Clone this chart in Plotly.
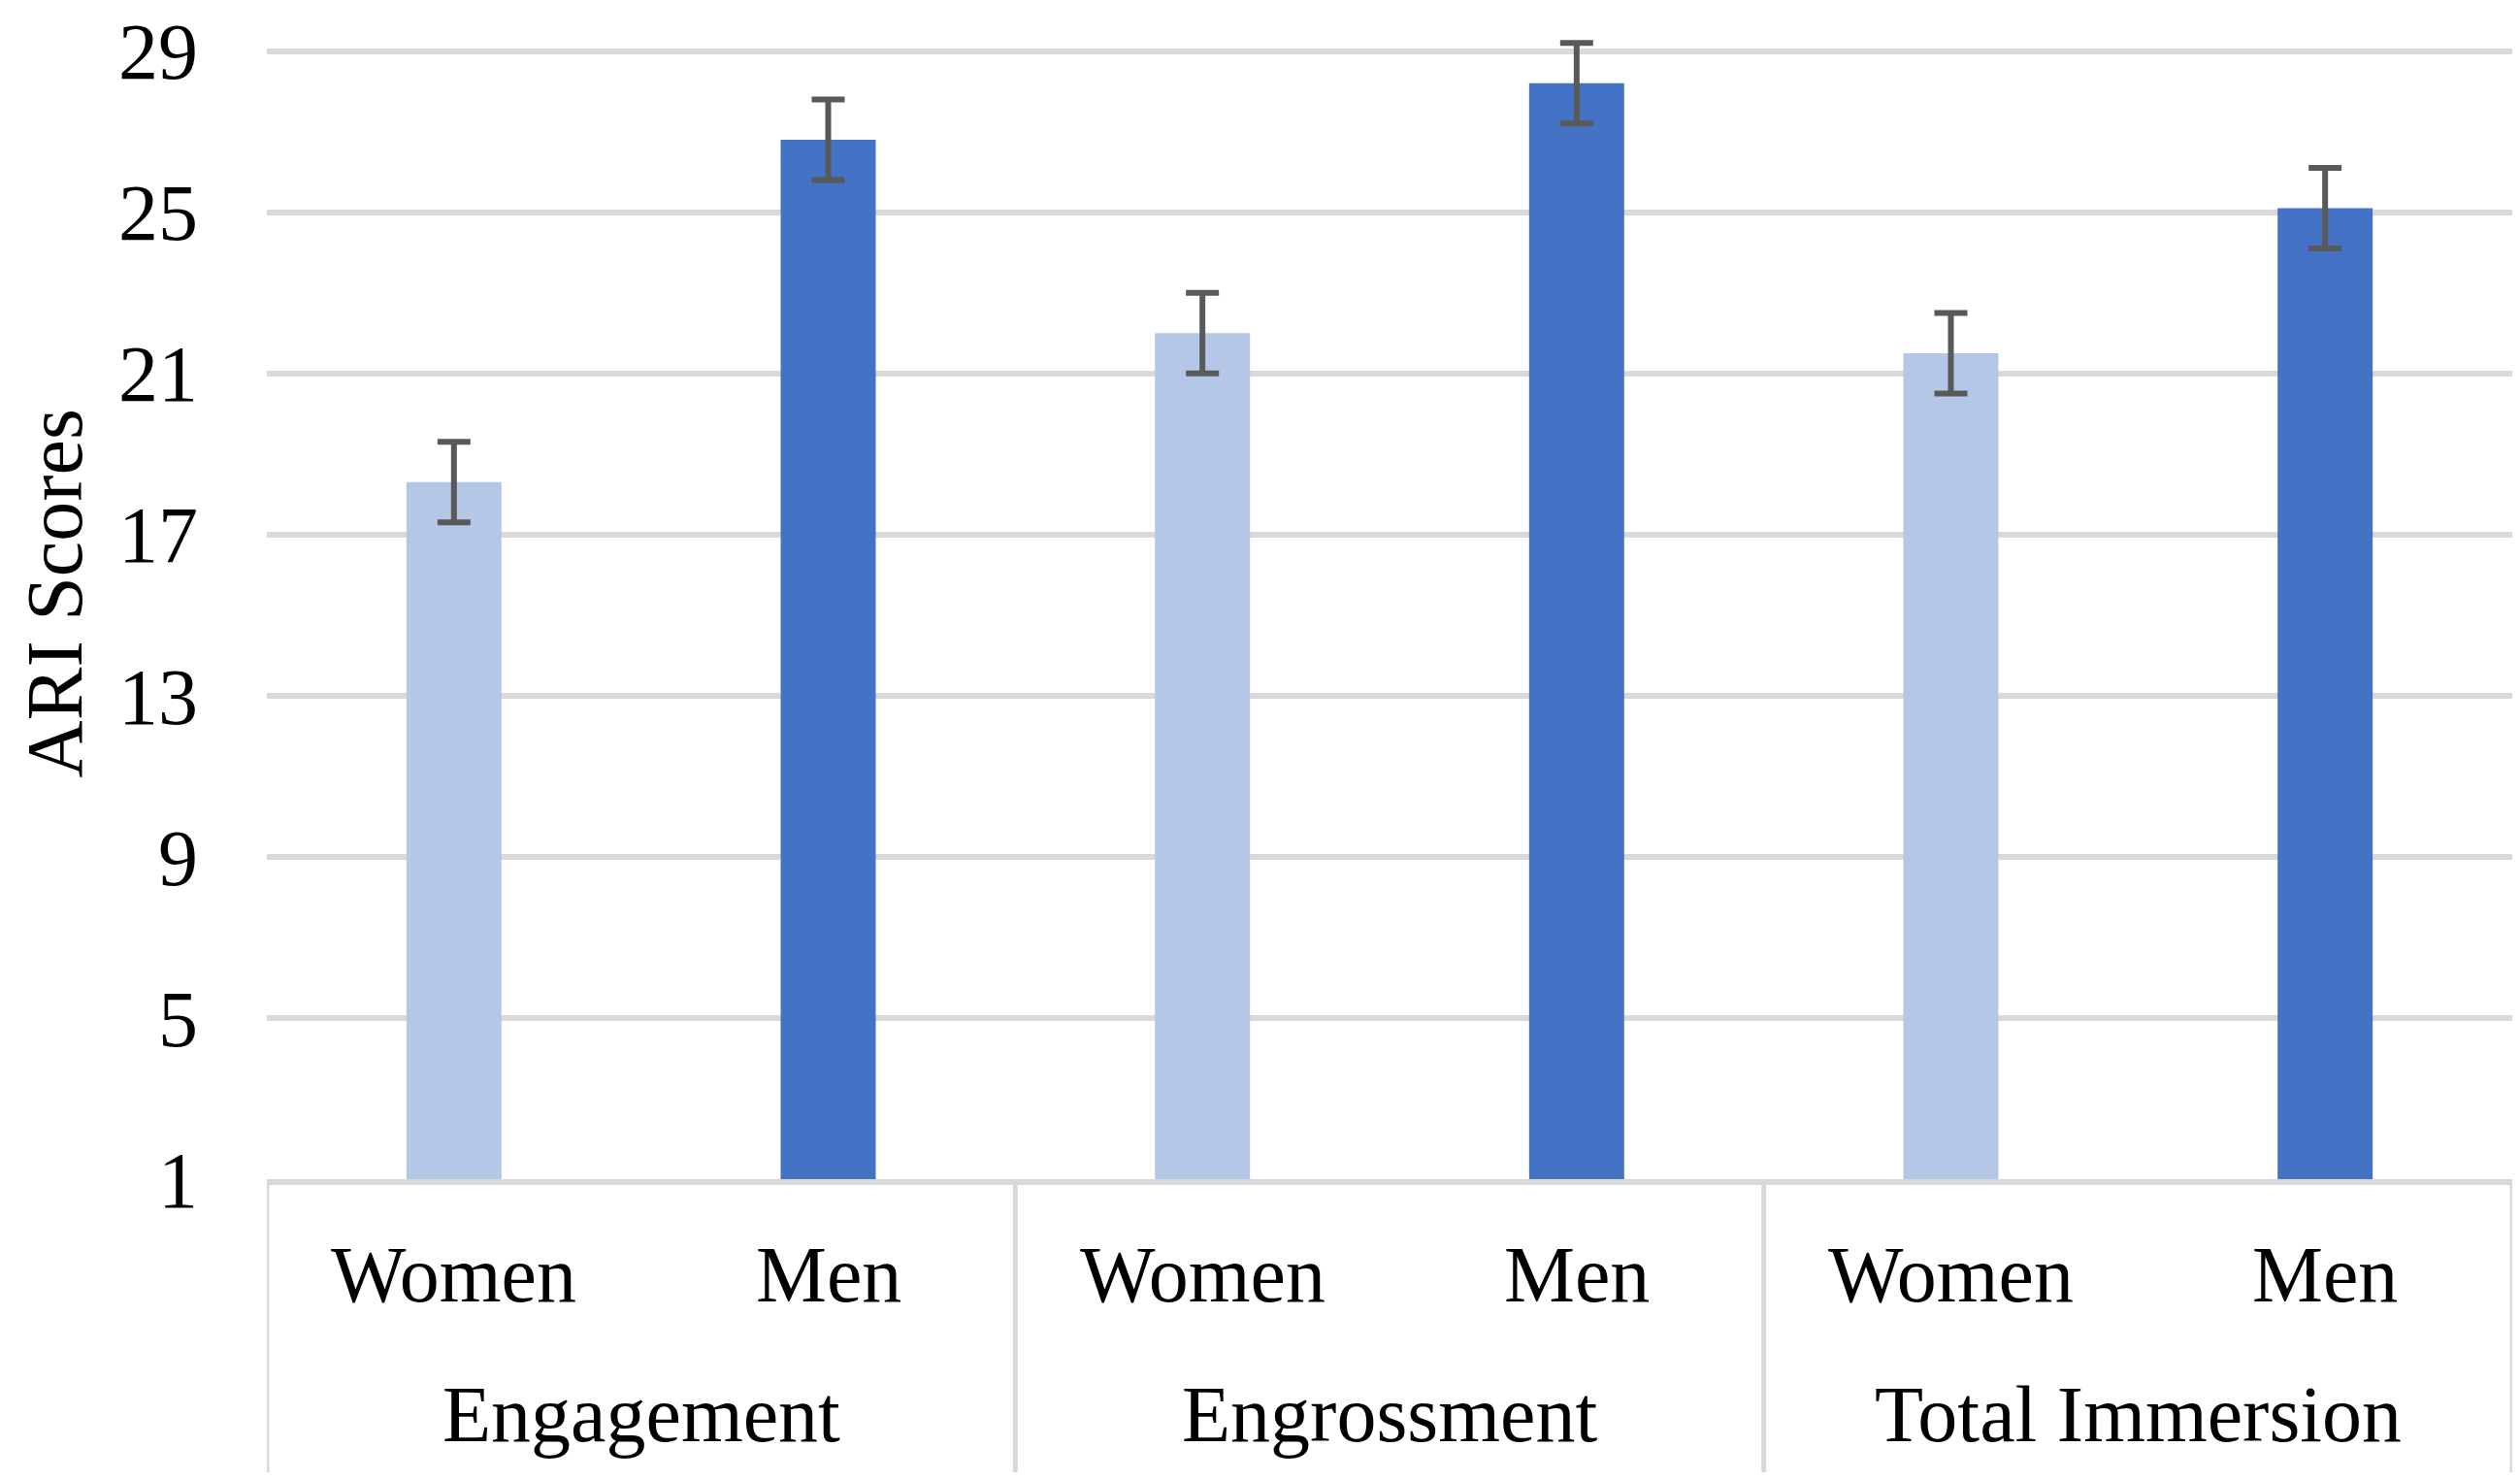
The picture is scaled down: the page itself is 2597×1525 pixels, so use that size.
import plotly.graph_objects as go

# ---- data ----
groups = ["Engagement", "Engagement", "Engrossment", "Engrossment",
          "Total Immersion", "Total Immersion"]
sexes = ["Women", "Men", "Women", "Men", "Women", "Men"]
means = [18.3, 26.8, 22.0, 28.2, 21.5, 25.1]
errors = [1.0, 1.0, 1.0, 1.0, 1.0, 1.0]
y_ticks = [1, 5, 9, 13, 17, 21, 25, 29]
group_names = ["Engagement", "Engrossment", "Total Immersion"]

# ---- style ----
sex_colors = {"Women": "#b4c7e7", "Men": "#4472c4"}
FONT = "Liberation Serif, Times New Roman, serif"
GRID = "#d9d9d9"
FS = 82

cats = [f"{g}|{s}" for g, s in zip(groups, sexes)]
colors = [sex_colors[s] for s in sexes]

fig = go.Figure()
fig.add_trace(go.Bar(
    x=cats, y=means,
    marker=dict(color=colors, line=dict(width=0)),
    error_y=dict(type="data", array=errors, visible=True,
                 color="#595959", thickness=6, width=17),
    cliponaxis=False,
    showlegend=False,
))

# page body has an 8px margin, so the figure is sized to fit inside it
W, H = 2581, 1509
fig.update_layout(
    width=W, height=H,
    margin=dict(l=267, r=0, t=26, b=302),
    paper_bgcolor="white", plot_bgcolor="white",
    bargap=0.746,
    font=dict(family=FONT, size=FS, color="black"),
)
fig.update_xaxes(
    type="category", categoryorder="array", categoryarray=cats,
    range=[-0.5, len(cats) - 0.5],
    showticklabels=False, ticks="", showgrid=False,
    showline=True, linecolor=GRID, linewidth=6,
    zeroline=False,
)
fig.update_yaxes(
    range=[1, 29.4], tickvals=y_ticks, ticktext=[str(v) for v in y_ticks],
    showgrid=True, gridcolor=GRID, gridwidth=6,
    showline=False, zeroline=False, ticks="",
    ticklabelstandoff=70, ticklabeloverflow="allow",
    tickfont=dict(family=FONT, size=FS, color="black"),
)

# sub-category labels
for c, s in zip(cats, sexes):
    fig.add_annotation(x=c, xref="x", y=0, yref="paper", yshift=-98,
                       text=s, showarrow=False, yanchor="middle",
                       font=dict(family=FONT, size=FS, color="black"))

# group labels and dividers
bounds = [-0.5]
idx = 0
for g in group_names:
    n = groups.count(g)
    center = idx + (n - 1) / 2
    fig.add_annotation(x=center, xref="x", y=0, yref="paper", yshift=-242,
                       text=g, showarrow=False, yanchor="middle",
                       font=dict(family=FONT, size=FS, color="black"))
    idx += n
    bounds.append(idx - 0.5)

for b in bounds:
    fig.add_shape(type="line", xref="x", yref="paper",
                  x0=b, x1=b, y0=0, y1=-0.3,
                  line=dict(color=GRID, width=5))

# y-axis title
fig.add_annotation(text="ARI Scores", xref="paper", yref="paper",
                   x=0, y=0.5, xshift=-219, yshift=14, textangle=-90,
                   showarrow=False, xanchor="center", yanchor="middle",
                   font=dict(family=FONT, size=FS, color="black"))

fig.write_html("out.html")
